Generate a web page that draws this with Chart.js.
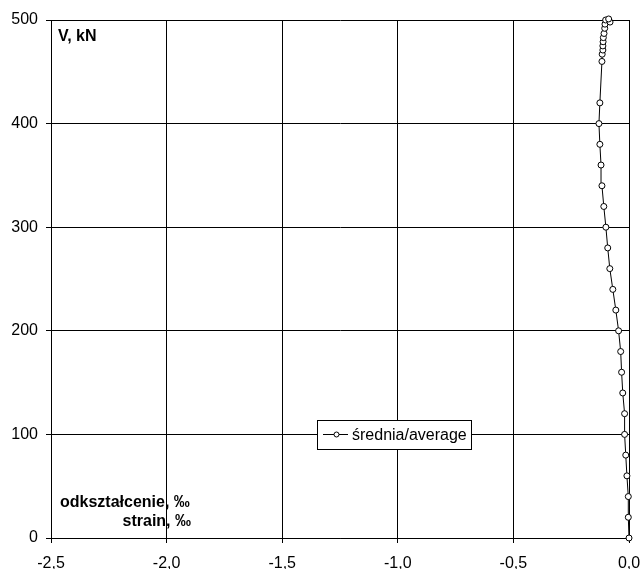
<!DOCTYPE html>
<html>
<head>
<meta charset="utf-8">
<script src="https://cdn.jsdelivr.net/npm/chart.js@4"></script>
<style>
    html, body { margin: 0; padding: 0; background: #fff; }
    #wrap { width: 643px; height: 569px; }
</style>
</head>
<body>
<div id="wrap"><canvas id="strainChart" width="643" height="569"></canvas></div>
<script>
// odkształcenie (‰) i obciążenie V (kN)
const strain = [0.000, -0.003, -0.003, -0.009, -0.014, -0.019, -0.019, -0.027, -0.032, -0.036,
    -0.045, -0.057, -0.070, -0.083, -0.092, -0.100, -0.109, -0.117, -0.121, -0.126,
    -0.130, -0.126, -0.117, -0.116, -0.113, -0.113, -0.112, -0.111, -0.108, -0.105,
    -0.104, -0.101, -0.082, -0.088];
const load = [0, 20, 40, 60, 80, 100, 120, 140, 160, 180,
    200, 220, 240, 260, 280, 300, 320, 340, 360, 380,
    400, 420, 460, 467, 471, 475, 479, 483, 487, 492,
    496, 500, 498, 501];
const xTicks = [-2.5, -2.0, -1.5, -1.0, -0.5, 0.0];
const yTicks = [0, 100, 200, 300, 400, 500];
const seriesLabel = 'średnia/average';

const FONT = 'Arial, "Liberation Sans", sans-serif';

// etykiety osi X z przecinkiem dziesiętnym
function formatStrain(value) {
    return Number(value).toFixed(1).replace('.', ',');
}

// podpisy osi i legenda rysowane na płótnie
const annotations = {
    id: 'annotations',
    afterDraw(chart) {
        const ctx = chart.ctx;
        const area = chart.chartArea;
        ctx.save();
        ctx.fillStyle = '#000';
        ctx.font = 'bold 16px ' + FONT;
        ctx.textBaseline = 'alphabetic';
        ctx.textAlign = 'left';
        ctx.fillText('V, kN', area.left + 7, area.top + 21);
        ctx.fillText('odkształcenie, ‰', area.left + 9, 507);
        ctx.textAlign = 'right';
        ctx.fillText('strain, ‰', 191, 526);

        // legenda
        const bx = 317, by = 420, bw = 154, bh = 29;
        ctx.fillStyle = '#fff';
        ctx.fillRect(bx, by, bw, bh);
        ctx.strokeStyle = '#000';
        ctx.lineWidth = 1;
        ctx.strokeRect(bx + 0.5, by + 0.5, bw, bh);
        const ly = by + 14.5;
        ctx.beginPath();
        ctx.moveTo(bx + 6, ly);
        ctx.lineTo(bx + 31, ly);
        ctx.stroke();
        ctx.beginPath();
        ctx.arc(bx + 19.5, ly, 2.5, 0, Math.PI * 2);
        ctx.fill();
        ctx.stroke();
        ctx.fillStyle = '#000';
        ctx.font = '16px ' + FONT;
        ctx.textAlign = 'left';
        ctx.fillText(seriesLabel, bx + 35, by + 20);
        ctx.restore();
    }
};

const points = strain.map((s, i) => ({ x: s, y: load[i] }));

new Chart(document.getElementById('strainChart'), {
    type: 'scatter',
    data: {
        datasets: [{
            label: seriesLabel,
            data: points,
            showLine: true,
            borderColor: '#000',
            borderWidth: 1,
            pointRadius: 3,
            pointBorderWidth: 1,
            pointBackgroundColor: '#fff',
            pointBorderColor: '#000',
            clip: false
        }]
    },
    options: {
        responsive: false,
        animation: false,
        layout: { padding: { top: 20, right: 14, left: 0, bottom: 0 } },
        plugins: {
            legend: { display: false },
            tooltip: { enabled: false }
        },
        scales: {
            x: {
                type: 'linear',
                min: -2.5,
                max: 0,
                afterBuildTicks: scale => { scale.ticks = xTicks.map(v => ({ value: v })); },
                afterFit: scale => {
                    scale.height = 31;
                    scale.paddingLeft = 0;
                    scale.paddingRight = 0;
                },
                ticks: {
                    color: '#000',
                    font: { family: FONT, size: 16 },
                    padding: 11,
                    maxRotation: 0,
                    autoSkip: false,
                    callback: formatStrain
                },
                grid: { color: '#000', lineWidth: 1, tickLength: 5, drawTicks: true },
                border: { color: '#000', width: 1 }
            },
            y: {
                type: 'linear',
                min: 0,
                max: 500,
                afterBuildTicks: scale => { scale.ticks = yTicks.map(v => ({ value: v })); },
                afterFit: scale => {
                    scale.width = 51;
                    scale.paddingTop = 0;
                    scale.paddingBottom = 0;
                },
                ticks: {
                    color: '#000',
                    font: { family: FONT, size: 16 },
                    padding: 8,
                    callback: v => String(v)
                },
                grid: { color: '#000', lineWidth: 1, tickLength: 5, drawTicks: true },
                border: { color: '#000', width: 1 }
            }
        }
    },
    plugins: [annotations]
});
</script>
</body>
</html>
